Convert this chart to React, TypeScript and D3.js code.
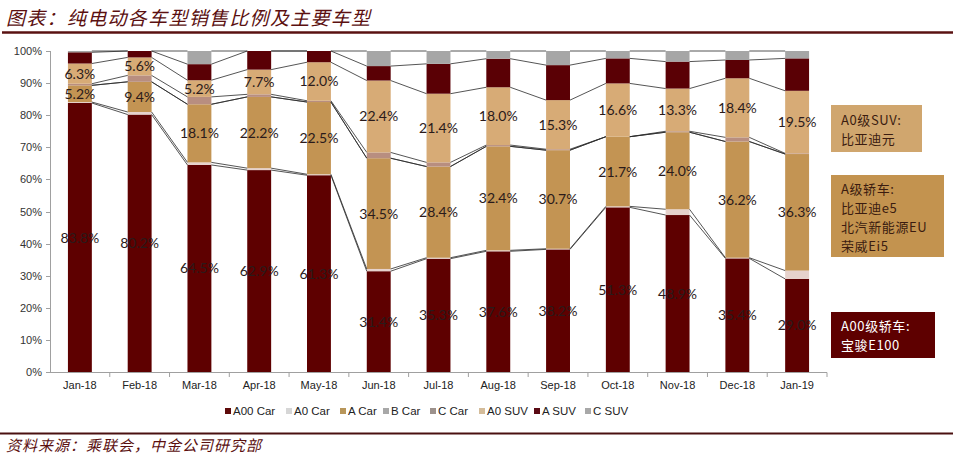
import React from "react";
import * as d3 from "d3";

const months = ["Jan-18","Feb-18","Mar-18","Apr-18","May-18","Jun-18","Jul-18","Aug-18","Sep-18","Oct-18","Nov-18","Dec-18","Jan-19"];
const seriesNames = ["A00 Car","A0 Car","A Car","B Car","C Car","A0 SUV","A SUV","C SUV"];
const a00Car = [83.8, 80.2, 64.5, 62.9, 61.3, 31.4, 35.3, 37.6, 38.2, 51.3, 48.9, 35.4, 29.0];
const a0Car  = [0.3, 0.8, 0.8, 0.6, 0.3, 0.7, 0.3, 0.3, 0.2, 0.3, 1.8, 0.2, 2.6];
const aCar   = [5.2, 9.4, 18.1, 22.2, 22.5, 34.5, 28.4, 32.4, 30.7, 21.7, 24.0, 36.2, 36.3];
const bCar   = [0, 0, 0, 0, 0, 0, 0, 0, 0, 0, 0, 0, 0];
const cCar   = [0.5, 2.0, 2.3, 0.8, 0.4, 1.8, 1.3, 0.4, 0.3, 0, 0.3, 1.3, 0.2];
const a0Suv  = [6.3, 5.6, 5.2, 7.7, 12.0, 22.4, 21.4, 18.0, 15.3, 16.6, 13.3, 18.4, 19.5];
const aSuv   = [3.5, 2.0, 5.0, 5.8, 3.5, 4.5, 9.3, 8.9, 10.9, 7.8, 8.4, 5.7, 10.1];
const cSuv   = [0.4, 0, 4.1, 0, 0, 4.7, 4.0, 2.4, 4.4, 2.3, 3.3, 2.8, 2.3];
const yTicks = [0, 10, 20, 30, 40, 50, 60, 70, 80, 90, 100];
const labeledSeries = ["A00 Car", "A Car", "A0 SUV"];
const box1Lines = ["A0级SUV:", "比亚迪元"];
const box2Lines = ["A级轿车:", "比亚迪e5", "北汽新能源EU", "荣威Ei5"];
const box3Lines = ["A00级轿车:", "宝骏E100"];

const seriesValues = [a00Car, a0Car, aCar, bCar, cCar, a0Suv, aSuv, cSuv];
const barColors = ["#5e0000", "#e6d2cc", "#c39453", "#a6a6a6", "#b88e80", "#d7ab76", "#5a0005", "#a6a6a6"];
const legendColors = ["#5e0a0a", "#d6d6d6", "#b8965a", "#a8a8a8", "#9c918c", "#d4bc9a", "#5a0a14", "#a8a8a8"];
const legendX = [225, 286, 340, 383, 430, 479, 534, 585];

export default function App() {
  const W = 953, H = 460;
  const x = d3.scaleBand<string>().domain(months).range([50, 827]).paddingInner(0.6).paddingOuter(0.3);
  const y = d3.scaleLinear().domain([0, 100]).range([372, 51]);
  const bw = x.bandwidth();
  const step = x.step();

  const table = months.map((m, i) => {
    const row: any = { month: m };
    seriesNames.forEach((s, k) => (row[s] = seriesValues[k][i]));
    return row;
  });
  const stacked = d3.stack<any>().keys(seriesNames)(table);

  const seriesLines: string[] = [];
  stacked.forEach((layer) => {
    for (let i = 0; i < months.length - 1; i++) {
      const x1 = (x(months[i]) as number) + bw;
      const x2 = x(months[i + 1]) as number;
      seriesLines.push(`M${x1},${y(layer[i][1])}L${x2},${y(layer[i + 1][1])}`);
    }
  });

  const titleColor = "#5b1010";
  const cjk = "'Noto Sans CJK SC', sans-serif";
  const lab = "Lato, 'Open Sans', sans-serif";
  const arial = "'Liberation Sans', Arial, sans-serif";

  const boxText = (lines: string[], y0: number, dy: number, fill: string) =>
    lines.map((t, i) => (
      <text key={t} x={841} y={y0 + i * dy} fontFamily={cjk} fontSize={13} letterSpacing={0.6} fill={fill}>{t}</text>
    ));

  return (
    <svg width={W} height={H} style={{ position: "absolute", left: 0, top: 0, background: "#fff" }}>
      <rect x={0} y={0} width={W} height={H} fill="#fff" />
      {/* Title */}
      <text x={6} y={25} fontFamily={cjk} fontSize={19} fontStyle="italic" fill={titleColor} letterSpacing={1.3}>
        图表：纯电动各车型销售比例及主要车型
      </text>
      <line x1={2} x2={W} y1={32.5} y2={32.5} stroke="#5a1212" strokeWidth={2.5} />

      {/* y axis */}
      <line x1={50.5} x2={50.5} y1={y(100)} y2={y(0)} stroke="#a0a0a0" />
      {yTicks.map((t) => (
        <g key={t}>
          <line x1={46} x2={50.5} y1={Math.round(y(t)) + 0.5} y2={Math.round(y(t)) + 0.5} stroke="#a0a0a0" />
          <text x={42} y={y(t) + 4} textAnchor="end" fontFamily={arial} fontSize={11} fill="#333">{t}%</text>
        </g>
      ))}

      {/* bars */}
      {stacked.map((layer, k) => (
        <g key={k}>
          {layer.map((d, i) => (
            <rect key={i} x={x(months[i])} y={y(d[1])} width={bw} height={Math.max(0, y(d[0]) - y(d[1]))} fill={barColors[k]} />
          ))}
        </g>
      ))}

      {/* series lines */}
      {seriesLines.map((p, i) => (
        <path key={i} d={p} fill="none" stroke="#2a2a2a" strokeWidth={0.8} />
      ))}

      {/* x axis */}
      <line x1={50} x2={827} y1={372.5} y2={372.5} stroke="#a0a0a0" />
      {months.map((m, i) => (
        <line key={m} x1={50 + step * (i + 1)} x2={50 + step * (i + 1)} y1={372.5} y2={377} stroke="#a0a0a0" />
      ))}
      {months.map((m) => (
        <text key={m} x={(x(m) as number) + bw / 2} y={389} textAnchor="middle" fontFamily={arial} fontSize={11} fill="#222">{m}</text>
      ))}

      {/* data labels */}
      {stacked.map((layer, k) =>
        labeledSeries.includes(seriesNames[k])
          ? layer.map((d, i) => (
              <text key={`${k}-${i}`} x={(x(months[i]) as number) + bw / 2} y={y((d[0] + d[1]) / 2) + 5}
                textAnchor="middle" fontFamily={lab} fontSize={14} fill="#2a1a1a">
                {seriesValues[k][i].toFixed(1)}%
              </text>
            ))
          : null
      )}

      {/* legend */}
      {seriesNames.map((s, k) => (
        <g key={s}>
          <rect x={legendX[k]} y={408} width={6} height={6} fill={legendColors[k]} />
          <text x={legendX[k] + 8} y={415} fontFamily={arial} fontSize={11.5} fill="#222">{s}</text>
        </g>
      ))}

      {/* annotation boxes */}
      <rect x={831} y={105} width={91} height={47} fill="#d0a66e" />
      {boxText(box1Lines, 124.5, 19, "#3b1c10")}
      <rect x={831} y={175} width={113} height={82} fill="#c3934f" />
      {boxText(box2Lines, 193.5, 19, "#3b1c10")}
      <rect x={831} y={312} width={104} height={46} fill="#5e0000" />
      {boxText(box3Lines, 331, 19, "#ffffff")}

      {/* source */}
      <line x1={0} x2={W} y1={433.5} y2={433.5} stroke="#4a1010" strokeWidth={2} />
      <text x={6} y={451} fontFamily={cjk} fontSize={15} fontStyle="italic" fill={titleColor} letterSpacing={1}>
        资料来源：乘联会，中金公司研究部
      </text>
    </svg>
  );
}
